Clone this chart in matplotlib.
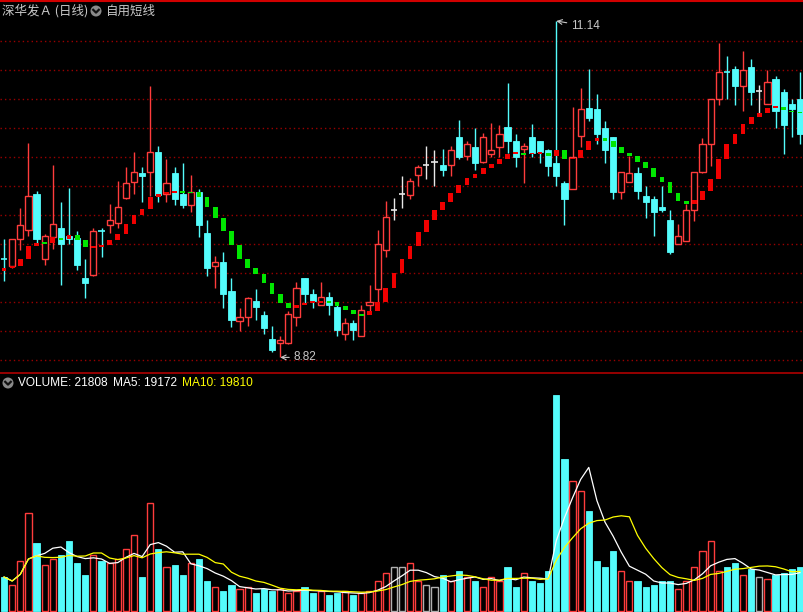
import matplotlib
matplotlib.use('Agg')
import matplotlib.pyplot as plt
from matplotlib.patches import Circle
from matplotlib.lines import Line2D
from matplotlib.transforms import IdentityTransform
import numpy as np
import pandas as pd

plt.rcParams['font.family'] = ['Noto Sans CJK SC', 'DejaVu Sans']

title_name = '深华发Ａ (日线)'
indicator_name = '自用短线'

opens = [9.50, 9.45, 9.64, 9.70, 9.95, 9.50, 9.65, 9.71, 9.66, 9.64,
         9.37, 9.39, 9.69, 9.73, 9.75, 9.92, 10.03, 10.09, 10.10, 10.24,
         9.95, 10.09, 9.95, 9.87, 9.96, 9.68, 9.45, 9.48, 9.28, 9.07,
         9.10, 9.21, 9.11, 8.95, 8.92, 8.92, 9.10, 9.37, 9.26, 9.18,
         9.24, 9.17, 8.98, 9.06, 8.97, 9.18, 9.29, 9.56, 9.84, 9.95,
         9.94, 10.08, 10.15, 10.17, 10.15, 10.15, 10.34, 10.21, 10.27, 10.17,
         10.22, 10.27, 10.41, 10.31, 10.26, 10.34, 10.31, 10.25, 10.16, 10.02,
         9.98, 10.35, 10.54, 10.53, 10.40, 10.34, 9.96, 10.03, 10.09, 9.93,
         9.91, 9.86, 9.77, 9.60, 9.62, 9.84, 10.10, 10.29, 10.60, 10.79,
         10.81, 10.69, 10.82, 10.66, 10.57, 10.74, 10.65, 10.57, 10.60]
highs = [9.64, 9.64, 9.85, 10.30, 9.97, 9.67, 10.15, 9.89, 9.99, 9.69,
         9.50, 9.71, 9.71, 9.88, 10.04, 10.13, 10.24, 10.13, 10.69, 10.28,
         10.19, 10.13, 10.16, 10.08, 9.98, 9.77, 9.52, 9.55, 9.37, 9.16,
         9.24, 9.29, 9.14, 9.04, 8.97, 9.14, 9.34, 9.37, 9.29, 9.34,
         9.27, 9.20, 9.09, 9.08, 9.18, 9.32, 9.70, 9.90, 9.92, 10.07,
         10.06, 10.15, 10.28, 10.25, 10.26, 10.28, 10.46, 10.31, 10.40, 10.37,
         10.44, 10.42, 10.71, 10.36, 10.30, 10.43, 10.31, 10.26, 11.14, 10.04,
         10.55, 10.68, 10.81, 10.64, 10.45, 10.34, 10.10, 10.21, 10.13, 10.00,
         9.93, 10.00, 9.84, 9.74, 9.88, 10.10, 10.33, 10.60, 10.99, 10.90,
         10.83, 10.93, 10.88, 10.70, 10.80, 10.76, 10.67, 10.60, 10.79]
lows = [9.35, 9.44, 9.56, 9.66, 9.61, 9.46, 9.57, 9.32, 9.60, 9.42,
        9.23, 9.38, 9.51, 9.68, 9.71, 9.91, 9.95, 9.89, 9.93, 9.89,
        9.89, 9.87, 9.85, 9.82, 9.65, 9.38, 9.30, 9.16, 9.03, 9.00,
        9.04, 9.08, 8.98, 8.86, 8.82, 8.91, 9.04, 9.19, 9.16, 9.18,
        9.11, 8.97, 8.94, 8.94, 8.97, 9.14, 9.20, 9.51, 9.77, 9.85,
        9.91, 10.00, 10.05, 10.00, 10.07, 10.07, 10.19, 10.18, 10.11, 10.16,
        10.20, 10.20, 10.23, 10.13, 10.02, 10.20, 10.16, 10.07, 10.00, 9.73,
        9.98, 10.27, 10.45, 10.29, 10.16, 9.91, 9.91, 10.03, 9.91, 9.78,
        9.66, 9.82, 9.53, 9.60, 9.62, 9.76, 10.09, 10.14, 10.56, 10.60,
        10.56, 10.52, 10.56, 10.50, 10.57, 10.40, 10.22, 10.34, 10.29]
closes = [9.50, 9.64, 9.73, 9.93, 9.64, 9.66, 9.74, 9.60, 9.64, 9.46,
          9.33, 9.69, 9.69, 9.77, 9.86, 10.02, 10.10, 10.07, 10.24, 9.94,
          10.02, 9.91, 9.87, 9.96, 9.73, 9.44, 9.48, 9.26, 9.08, 9.10,
          9.23, 9.17, 9.02, 8.87, 8.94, 9.12, 9.30, 9.26, 9.21, 9.24,
          9.18, 9.01, 9.06, 9.01, 9.15, 9.20, 9.60, 9.79, 9.84, 9.95,
          10.04, 10.13, 10.15, 10.17, 10.11, 10.25, 10.20, 10.29, 10.16, 10.34,
          10.25, 10.36, 10.31, 10.20, 10.28, 10.23, 10.24, 10.14, 10.07, 9.91,
          10.20, 10.53, 10.47, 10.36, 10.25, 9.96, 10.10, 10.09, 9.97, 9.89,
          9.82, 9.84, 9.55, 9.66, 9.84, 10.10, 10.29, 10.60, 10.79, 10.79,
          10.69, 10.80, 10.65, 10.66, 10.72, 10.52, 10.42, 10.53, 10.36]
# short-line indicator: value before the first bar, then one value per bar
trend = [9.416, 9.437, 9.450, 9.502, 9.585, 9.612, 9.611, 9.650, 9.639, 9.662,
         9.630, 9.578, 9.583, 9.595, 9.628, 9.669, 9.738, 9.800, 9.841, 9.924,
         9.945, 9.959, 9.961, 9.959, 9.958, 9.923, 9.854, 9.778, 9.695, 9.592,
         9.502, 9.440, 9.392, 9.330, 9.254, 9.192, 9.163, 9.179, 9.192, 9.202,
         9.204, 9.203, 9.174, 9.147, 9.119, 9.112, 9.138, 9.200, 9.297, 9.400,
         9.497, 9.588, 9.685, 9.766, 9.834, 9.890, 9.952, 10.007, 10.055, 10.085,
         10.124, 10.154, 10.186, 10.226, 10.228, 10.225, 10.227, 10.228, 10.212, 10.248,
         10.185, 10.192, 10.248, 10.310, 10.331, 10.314, 10.274, 10.233, 10.212, 10.170,
         10.123, 10.061, 10.032, 9.957, 9.902, 9.881, 9.903, 9.968, 10.048, 10.186,
         10.290, 10.359, 10.428, 10.476, 10.503, 10.538, 10.546, 10.523, 10.516, 10.509]
volumes = [17000, 13000, 25000, 49000, 34000, 23000, 26000, 28000, 35000, 24000,
           18000, 28000, 25000, 24000, 26000, 31000, 38000, 17000, 54000, 31000,
           22000, 23000, 18000, 24000, 26000, 15000, 12000, 10000, 13000, 11000,
           12000, 9000, 11000, 10000, 11000, 9000, 10000, 12000, 9000, 10000,
           8000, 9000, 10000, 8000, 9000, 10000, 15000, 19000, 22000, 22000,
           24000, 15000, 13000, 12000, 18000, 15000, 20000, 17000, 15000, 12000,
           17000, 15000, 22000, 12000, 19000, 15000, 14000, 20000, 108000, 76000,
           65000, 60000, 50000, 25000, 22000, 30000, 20000, 15000, 15000, 12000,
           13000, 15000, 15000, 11000, 15000, 22000, 30000, 35000, 20000, 22000,
           24000, 18000, 21000, 17240, 16000, 18000, 19000, 21052, 21808]
price_grid = [8.8, 9.0, 9.2, 9.4, 9.6, 9.8, 10.0, 10.2, 10.4, 10.6, 10.8, 11.0]
vol_label, ma5_value, ma10_value = 21808, 19172, 19810

W, H = 804, 612
RED = '#ff3c3c'
CYAN = '#54fcfc'
WHITE = '#e8e8e8'
IND_RED = '#f00000'
IND_GREEN = '#00e600'
GRID = '#9a0000'
TXT = '#c8c8c8'

fig = plt.figure(figsize=(W / 100, H / 100), dpi=100, facecolor='black')


def ax_px(x0, y0, x1, y1):
    a = fig.add_axes([x0 / W, 1 - y1 / H, (x1 - x0) / W, (y1 - y0) / H])
    a.set_facecolor('black')
    for s in a.spines.values():
        s.set_visible(False)
    a.set_xticks([])
    a.set_yticks([])
    return a


o = np.array(opens); h = np.array(highs); l = np.array(lows); c = np.array(closes)
n = len(c)
x = np.arange(n)
BW = 0.76

cols = []
for i in range(n):
    if c[i] > o[i]:
        cols.append(RED)
    elif c[i] < o[i]:
        cols.append(CYAN)
    else:
        cols.append(WHITE if (i > 0 and c[i] > c[i - 1]) else CYAN)

# ---------------- price panel ----------------
ax = ax_px(0, 20, 804, 372)
ax.set_xlim(-0.5, n - 0.5)
ppu = 145.0
ax.set_ylim(11.0 - (372 - 41.3) / ppu, 11.0 + (41.3 - 20) / ppu)
for t in price_grid:
    ax.axhline(t, color=GRID, lw=1, ls=(0, (1, 2.2)), zorder=1)

ax.vlines(x, l, h, colors=cols, lw=1, zorder=2)
up = c > o
dn = c < o
dj = c == o
ax.bar(x[up], (c - o)[up], bottom=o[up], width=BW, facecolor='black',
       edgecolor=RED, lw=1, zorder=3)
ax.bar(x[dn], np.maximum((o - c)[dn], 0.007), bottom=c[dn], width=BW,
       facecolor=CYAN, edgecolor=CYAN, lw=0.6, zorder=3)
for i in x[dj]:
    ax.hlines(c[i], i - BW / 2, i + BW / 2, colors=cols[i], lw=1.2, zorder=3)

tr = np.array(trend)
a0 = tr[:-1]; a1 = tr[1:]
icol = [IND_RED if a1[i] > a0[i] else IND_GREEN for i in range(n)]
bot = np.minimum(a0, a1)
hgt = np.abs(a1 - a0)
thin = hgt < 0.012
bot = np.where(thin, a1 - 0.006, bot)
hgt = np.where(thin, 0.012, hgt)
ax.bar(x, hgt, bottom=bot, width=0.58, color=icol, lw=0, zorder=4)

ih = int(np.argmax(h)); il = int(np.argmin(l))
ax.annotate(f'{h[ih]:.2f}', xy=(ih, h[ih]), xytext=(10.5, -3.5), textcoords='offset points',
            color=TXT, fontsize=8.5, family=['Liberation Sans', 'DejaVu Sans'], ha='left', va='center',
            arrowprops=dict(arrowstyle='->', color=TXT, lw=0.8, shrinkA=1, shrinkB=0), zorder=6)
ax.annotate(f'{l[il]:.2f}', xy=(il, l[il]), xytext=(9.5, 0), textcoords='offset points',
            color=TXT, fontsize=8.5, family=['Liberation Sans', 'DejaVu Sans'], ha='left', va='center',
            arrowprops=dict(arrowstyle='->', color=TXT, lw=0.8, shrinkA=1, shrinkB=0), zorder=6)

# ---------------- volume panel ----------------
axv = ax_px(0, 376, 804, 612)
axv.set_xlim(-0.5, n - 0.5)
vpp = 500.0
axv.set_ylim(-(612 - 611) * vpp, (611 - 376) * vpp)
v = np.array(volumes, dtype=float)
for i in range(n):
    if c[i] > o[i] or (c[i] == o[i] and cols[i] == WHITE):
        axv.bar(i, v[i], width=BW, facecolor='black',
                edgecolor=('#b0b0b0' if c[i] == o[i] else RED), lw=1, zorder=3)
    else:
        axv.bar(i, v[i], width=BW, facecolor=CYAN, edgecolor=CYAN, lw=0.6, zorder=3)
vs = pd.Series(v)
ma5 = vs.rolling(5, min_periods=1).mean()
ma10 = vs.rolling(10, min_periods=1).mean()
axv.plot(x, ma5, color='white', lw=0.9, zorder=4)
axv.plot(x, ma10, color='#ffff00', lw=0.9, zorder=4)

# ---------------- frame lines & headers ----------------
fig.add_artist(Line2D([0, 1], [1 - 0.8 / H, 1 - 0.8 / H], transform=fig.transFigure, color='#d00000', lw=1.5))
fig.add_artist(Line2D([0, 1], [1 - 373 / H, 1 - 373 / H], transform=fig.transFigure, color='#b00000', lw=1.2))

fig.text(2 / W, 1 - 11 / H, title_name, color=TXT, fontsize=9, va='center', ha='left')
idt = IdentityTransform()


def icon(cx, cy):
    fig.add_artist(Circle((cx, H - cy), 5.5, transform=idt, facecolor='#8a8a8a', edgecolor='none'))
    fig.add_artist(Line2D([cx - 2.8, cx, cx + 2.8], [H - cy + 1.2, H - cy - 1.6, H - cy + 1.2],
                          transform=idt, color='#111111', lw=1.6))


icon(96, 11)
fig.text(106 / W, 1 - 11 / H, indicator_name, color=TXT, fontsize=9, va='center', ha='left')

icon(8, 383)
lat = ['Liberation Sans', 'DejaVu Sans']
fig.text(18 / W, 1 - 383 / H, f'VOLUME: {vol_label}', color='white', fontsize=8.6, va='center', ha='left', family=lat)
fig.text(113 / W, 1 - 383 / H, f'MA5: {ma5_value}', color='white', fontsize=8.6, va='center', ha='left', family=lat)
fig.text(182 / W, 1 - 383 / H, f'MA10: {ma10_value}', color='#ffff00', fontsize=8.6, va='center', ha='left', family=lat)

fig.savefig('out.png', dpi=100, facecolor='black')
